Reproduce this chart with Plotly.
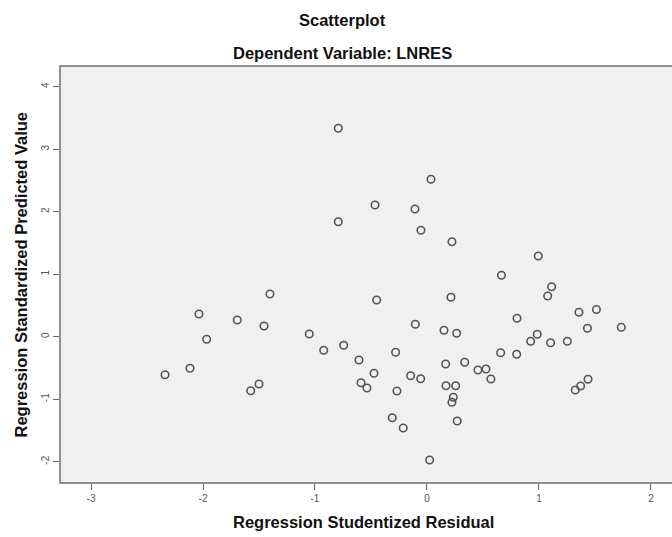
import plotly.graph_objects as go

# Regression Studentized Residual (x) and Regression Standardized Predicted Value (y)
studentized_residual = [
    -0.792, -0.792, 0.036, -0.464, -0.107, -0.054, 0.223, 0.994, 0.665, 1.113,
    1.078, -0.449, 0.214, -1.402, -2.036, -1.694, -1.455, -1.967, -1.051, -0.922,
    -0.744, -0.607, -2.339, -2.116, -1.574, -1.500, -0.589, -0.536, 1.357, 1.513,
    0.804, -0.104, 0.152, 0.265, 1.433, 1.735, 0.985, 0.926, 1.104, 1.253,
    -0.280, 0.658, 0.801, 0.167, 0.337, -0.473, -0.146, -0.056, 0.455, 0.527,
    0.571, -0.268, 0.170, 0.256, 0.235, 0.223, 1.324, 1.372, 1.438, -0.310,
    -0.212, 0.270, 0.024,
]
standardized_predicted = [
    3.334, 1.840, 2.518, 2.107, 2.043, 1.702, 1.520, 1.291, 0.982, 0.800,
    0.651, 0.587, 0.630, 0.683, 0.363, 0.267, 0.171, -0.042, 0.043, -0.218,
    -0.138, -0.373, -0.608, -0.506, -0.864, -0.757, -0.736, -0.821, 0.390, 0.434,
    0.294, 0.198, 0.102, 0.054, 0.134, 0.150, 0.038, -0.074, -0.096, -0.072,
    -0.250, -0.256, -0.282, -0.437, -0.410, -0.586, -0.624, -0.672, -0.533, -0.517,
    -0.677, -0.869, -0.784, -0.784, -0.970, -1.050, -0.853, -0.789, -0.680, -1.296,
    -1.461, -1.349, -1.973,
]
x_ticks = [-3, -2, -1, 0, 1, 2]
y_ticks = [-2, -1, 0, 1, 2, 3, 4]

title_text = "Scatterplot"
subtitle_text = "Dependent Variable: LNRES"
x_title = "Regression Studentized Residual"
y_title = "Regression Standardized Predicted Value"

FONT = "Liberation Sans, Arial, sans-serif"
TITLE_FONT = dict(size=16.5, family=FONT, color="#111")

fig = go.Figure()
fig.add_trace(go.Scatter(
    x=studentized_residual,
    y=standardized_predicted,
    mode="markers",
    marker=dict(symbol="circle-open", size=7.5, color="#555555",
                line=dict(width=1.6, color="#555555")),
    showlegend=False,
    hoverinfo="x+y",
))

fig.update_layout(
    width=672, height=537,
    margin=dict(l=61, r=0, t=67, b=55),
    paper_bgcolor="white",
    plot_bgcolor="#f0f0f0",
    font=dict(family=FONT, color="#222"),
    showlegend=False,
    annotations=[
        dict(text="<b>" + title_text + "</b>", xref="paper", yref="paper",
             x=0.4615, y=1, yshift=47, xanchor="center", yanchor="middle",
             showarrow=False, font=TITLE_FONT),
        dict(text="<b>" + subtitle_text + "</b>", xref="paper", yref="paper",
             x=0.4615, y=1, yshift=14, xanchor="center", yanchor="middle",
             showarrow=False, font=TITLE_FONT),
        dict(text="<b>" + x_title + "</b>", xref="paper", yref="paper",
             x=0.495, y=0, yshift=-40, xanchor="center", yanchor="middle",
             showarrow=False, font=TITLE_FONT),
        dict(text="<b>" + y_title + "</b>", xref="paper", yref="paper",
             x=0, y=0.5, xshift=-41, xanchor="center", yanchor="middle",
             textangle=-90, showarrow=False, font=TITLE_FONT),
    ],
)

fig.update_xaxes(
    range=[-3.268, 2.188],
    tickvals=x_ticks,
    ticktext=[str(t) for t in x_ticks],
    ticks="outside", ticklen=6, tickwidth=1, tickcolor="#666",
    tickfont=dict(size=10, color="#555", family=FONT),
    showgrid=False, zeroline=False,
    showline=True, linecolor="#8f8f8f", linewidth=2, mirror=True,
)
fig.update_yaxes(
    range=[-2.325, 4.315],
    tickvals=y_ticks,
    ticktext=[str(t) for t in y_ticks],
    tickangle=-90,
    ticks="outside", ticklen=6, tickwidth=1, tickcolor="#666",
    tickfont=dict(size=10, color="#555", family=FONT),
    showgrid=False, zeroline=False,
    showline=True, linecolor="#8f8f8f", linewidth=2, mirror=False,
)

fig.write_html("out.html", config={"displayModeBar": False},
               post_script="document.body.style.margin='0';")
